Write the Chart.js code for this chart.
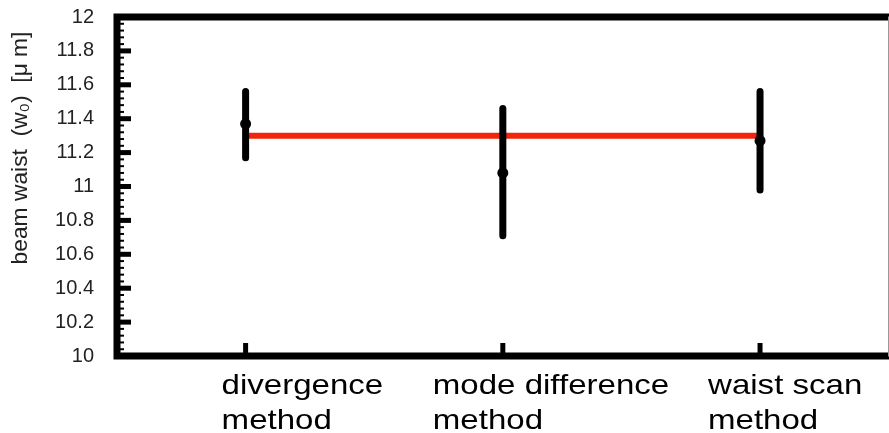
<!DOCTYPE html>
<html>
<head>
<meta charset="utf-8">
<script src="https://cdn.jsdelivr.net/npm/chart.js@4/dist/chart.umd.min.js"></script>
<style>
  html, body { margin: 0; padding: 0; background: #fff; }
  #wrap { width: 889px; height: 433px; }
</style>
</head>
<body>
<div id="wrap"><canvas id="myChart" width="889" height="433"></canvas></div>
<script>
// data
var methods = [['divergence', 'method'], ['mode difference', 'method'], ['waist scan', 'method']];
var waistValues = [11.37, 11.08, 11.27];
var errLow = [11.17, 10.71, 10.98];
var errHigh = [11.56, 11.46, 11.56];
var meanLine = [11.3, 11.3];
var yTicks = [10, 10.2, 10.4, 10.6, 10.8, 11, 11.2, 11.4, 11.6, 11.8, 12];

var pointData = waistValues.map(function(v, i) { return {x: i, y: v}; });
var lineData = [{x: 0, y: meanLine[0]}, {x: methods.length - 1, y: meanLine[1]}];

var labelShift = [-24, -70, -52];

var framePlugin = {
  id: 'frame',
  afterDatasetDraw: function(chart, args) {
    if (args.index !== 1) return;
    // error bars, over the red line but under the points
    var ctx = chart.ctx, xs = chart.scales.x, ys = chart.scales.y;
    ctx.save();
    ctx.strokeStyle = '#000';
    ctx.lineWidth = 7;
    ctx.lineCap = 'round';
    for (var i = 0; i < waistValues.length; i++) {
      var px = xs.getPixelForValue(i);
      ctx.beginPath();
      ctx.moveTo(px, ys.getPixelForValue(errLow[i]));
      ctx.lineTo(px, ys.getPixelForValue(errHigh[i]));
      ctx.stroke();
    }
    ctx.restore();
  },
  afterDraw: function(chart) {
    var ctx = chart.ctx, xs = chart.scales.x, ys = chart.scales.y;
    var a = chart.chartArea;
    ctx.save();
    // frame
    ctx.strokeStyle = '#000';
    ctx.lineWidth = 7;
    ctx.lineCap = 'square';
    ctx.beginPath();
    ctx.moveTo(a.right + 4, a.top);
    ctx.lineTo(a.left, a.top);
    ctx.lineTo(a.left, a.bottom);
    ctx.lineTo(a.right + 4, a.bottom);
    ctx.stroke();
    ctx.strokeStyle = '#999';
    ctx.lineWidth = 1;
    ctx.beginPath();
    ctx.moveTo(888.5, a.top);
    ctx.lineTo(888.5, a.bottom);
    ctx.stroke();
    // y major + minor ticks (inward)
    ctx.strokeStyle = '#000';
    ctx.lineCap = 'butt';
    yTicks.forEach(function(t, k) {
      var py = ys.getPixelForValue(t);
      ctx.lineWidth = 5;
      ctx.beginPath();
      ctx.moveTo(a.left, py);
      ctx.lineTo(a.left + 14, py);
      ctx.stroke();
      if (k < yTicks.length - 1) {
        for (var m = 1; m < 5; m++) {
          var my = ys.getPixelForValue(t + m * 0.04);
          ctx.lineWidth = 2;
          ctx.beginPath();
          ctx.moveTo(a.left, my);
          ctx.lineTo(a.left + 7, my);
          ctx.stroke();
        }
      }
    });
    // x ticks (inward)
    for (var i = 0; i < methods.length; i++) {
      var px = xs.getPixelForValue(i);
      ctx.lineWidth = 5;
      ctx.beginPath();
      ctx.moveTo(px, a.bottom);
      ctx.lineTo(px, a.bottom - 13);
      ctx.stroke();
    }
    // category labels (the original is stretched sideways)
    ctx.fillStyle = '#000';
    ctx.font = '28px "Liberation Sans", Arial, sans-serif';
    ctx.textAlign = 'left';
    ctx.textBaseline = 'alphabetic';
    for (var j = 0; j < methods.length; j++) {
      var lx = xs.getPixelForValue(j) + labelShift[j];
      ctx.save();
      ctx.translate(lx, 0);
      ctx.scale(1.18, 1);
      ctx.fillText(methods[j][0], 0, a.bottom + 38);
      ctx.fillText(methods[j][1], 0, a.bottom + 73);
      ctx.restore();
    }
    // y axis title
    ctx.translate(27, 148);
    ctx.rotate(-Math.PI / 2);
    ctx.scale(1.2, 1.15);
    ctx.textAlign = 'center';
    ctx.font = '19px "Liberation Sans", Arial, sans-serif';
    ctx.fillStyle = '#222';
    ctx.fillText('beam waist  (w\u2080)  [\u03bc m]', 0, 0);
    ctx.restore();
  }
};

var myChart = new Chart(document.getElementById('myChart').getContext('2d'), {
  type: 'scatter',
  data: {
    datasets: [
      {
        label: 'beam waist',
        data: pointData,
        pointRadius: 5.5,
        pointBackgroundColor: '#000',
        pointBorderWidth: 0
      },
      {
        label: 'mean',
        type: 'line',
        data: lineData,
        borderColor: '#f2240c',
        borderWidth: 6,
        pointRadius: 0,
        fill: false
      }
    ]
  },
  options: {
    responsive: false,
    animation: false,
    layout: { padding: { top: 17, right: 0, left: 0, bottom: 0 } },
    plugins: { legend: { display: false }, tooltip: { enabled: false } },
    scales: {
      x: {
        type: 'linear',
        min: -0.5,
        max: 2.48,
        grid: { display: false },
        border: { display: false },
        ticks: { display: false },
        afterFit: function(s) { s.height = 77; s.paddingLeft = 0; s.paddingRight = 0; }
      },
      y: {
        min: 10,
        max: 12,
        grid: { display: false, drawTicks: false },
        border: { display: false },
        afterBuildTicks: function(s) { s.ticks = yTicks.map(function(v) { return {value: v}; }); },
        ticks: {
          padding: 23,
          color: '#222',
          font: { family: '"Liberation Sans", Arial, sans-serif', size: 20 },
          callback: function(v) { return String(Math.round(v * 10) / 10); }
        },
        afterFit: function(s) { s.width = 117; s.paddingTop = 0; s.paddingBottom = 0; }
      }
    }
  },
  plugins: [framePlugin]
});
</script>
</body>
</html>
